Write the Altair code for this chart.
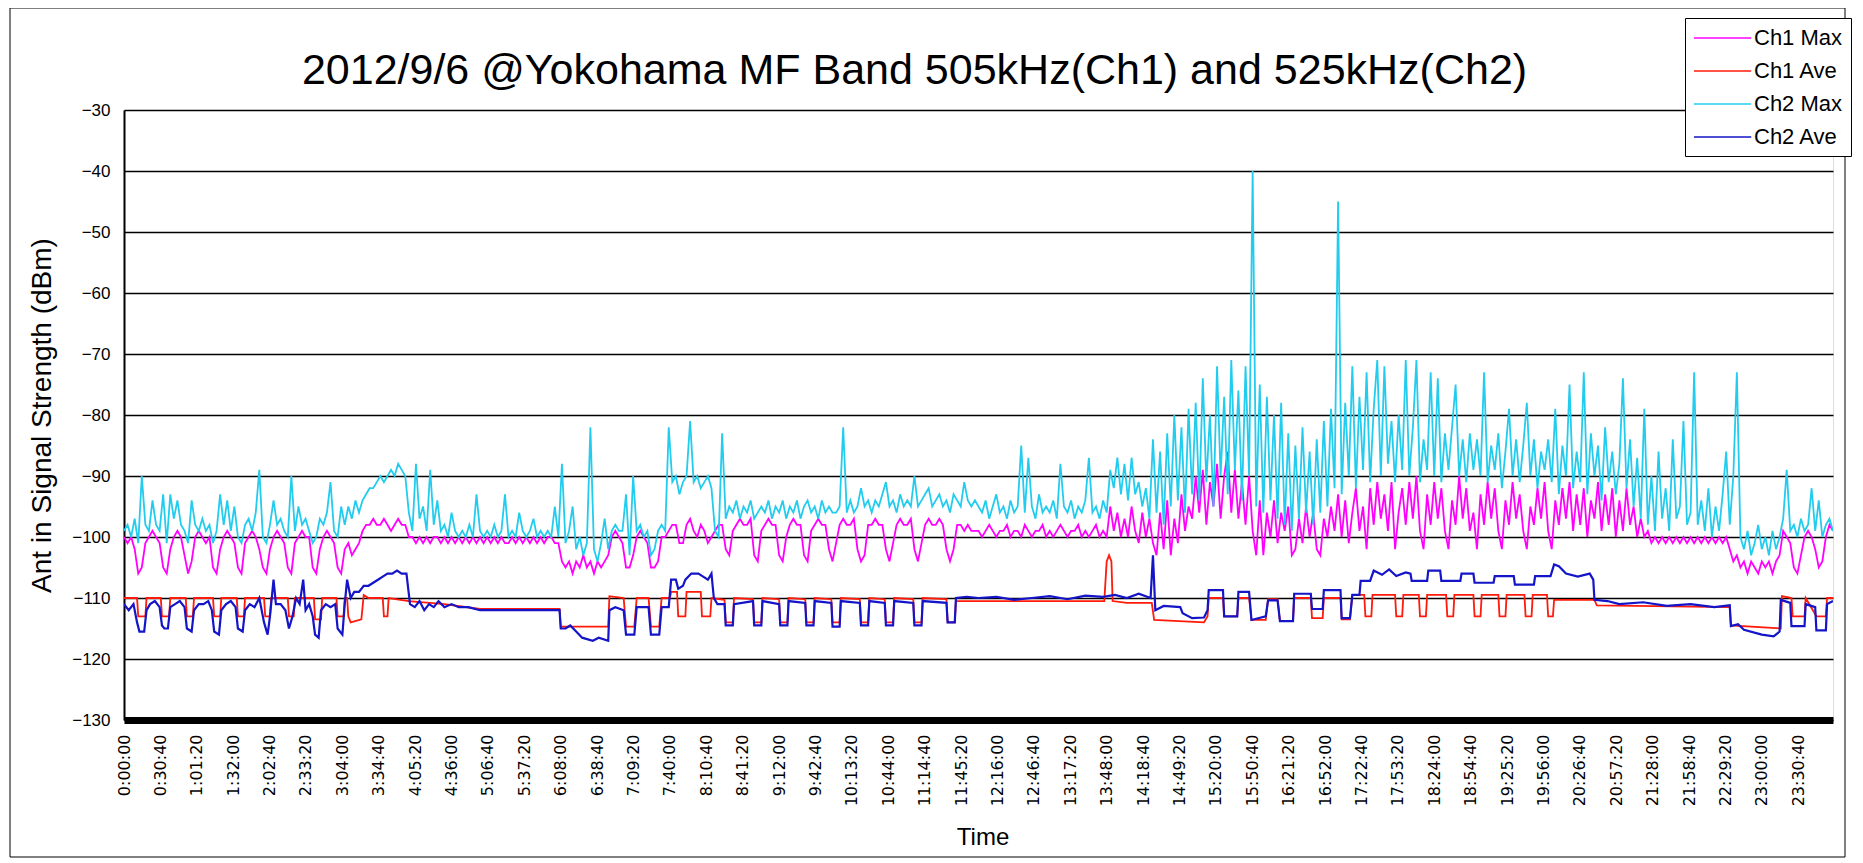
import json
import altair as alt
import pandas as pd

TITLE = "2012/9/6 @Yokohama MF Band 505kHz(Ch1) and 525kHz(Ch2)"
SERIES = ["Ch1 Max", "Ch1 Ave", "Ch2 Max", "Ch2 Ave"]
COLORS = ["#ff00ff", "#ff1a0a", "#22ccee", "#1414c8"]
WIDTHS = [1.8, 1.8, 1.8, 2.2]

TICK_LABELS = [
    "0:00:00", "0:30:40", "1:01:20", "1:32:00", "2:02:40", "2:33:20", "3:04:00",
    "3:34:40", "4:05:20", "4:36:00", "5:06:40", "5:37:20", "6:08:00", "6:38:40",
    "7:09:20", "7:40:00", "8:10:40", "8:41:20", "9:12:00", "9:42:40", "10:13:20",
    "10:44:00", "11:14:40", "11:45:20", "12:16:00", "12:46:40", "13:17:20",
    "13:48:00", "14:18:40", "14:49:20", "15:20:00", "15:50:40", "16:21:20",
    "16:52:00", "17:22:40", "17:53:20", "18:24:00", "18:54:40", "19:25:20",
    "19:56:00", "20:26:40", "20:57:20", "21:28:00", "21:58:40", "22:29:20",
    "23:00:00", "23:30:40",
]
Y_TICKS = [-130, -120, -110, -100, -90, -80, -70, -60, -50, -40, -30]

# Max series: one reading every 3 minutes (20 per hour), 0:00 .. 24:00
MAX_STEP_MIN = 3
CH1_MAX = [
    -100, -101, -100, -102, -106, -105, -101, -100, -99, -100, -101, -105, -106, -102, -100, -99, -100, -103, -106, -104,
    -100, -99, -100, -101, -100, -105, -106, -102, -100, -99, -100, -101, -105, -106, -101, -100, -99, -100, -102, -105,
    -106, -102, -100, -99, -100, -101, -105, -106, -101, -100, -99, -100, -100, -105, -106, -102, -100, -99, -100, -101,
    -105, -106, -102, -101, -103, -102, -101, -99, -98, -98, -97, -98, -98, -97, -98, -99, -98, -97, -98, -98,
    -100, -100, -101, -100, -101, -100, -101, -100, -100, -101, -100, -101, -100, -101, -100, -101, -100, -101, -100, -101,
    -100, -101, -100, -101, -100, -101, -100, -101, -101, -100, -101, -100, -101, -100, -101, -100, -101, -100, -101, -100,
    -100, -101, -101, -104, -105, -104, -106, -104, -105, -103, -105, -104, -106, -104, -105, -104, -103, -100, -99, -100,
    -101, -105, -105, -103, -100, -99, -100, -101, -105, -105, -104, -100, -100, -99, -98, -98, -101, -101, -98, -97,
    -99, -100, -98, -99, -101, -100, -99, -98, -98, -102, -103, -99, -98, -97, -98, -98, -97, -103, -104, -99,
    -98, -97, -98, -98, -103, -104, -100, -98, -97, -98, -98, -103, -104, -99, -98, -97, -98, -98, -102, -104,
    -101, -98, -97, -98, -98, -97, -102, -104, -103, -98, -98, -97, -98, -98, -102, -104, -101, -98, -97, -98,
    -98, -97, -102, -104, -101, -98, -97, -98, -98, -97, -98, -102, -104, -102, -98, -98, -99, -98, -99, -99,
    -99, -100, -99, -98, -99, -100, -99, -99, -98, -100, -99, -99, -100, -98, -99, -100, -99, -99, -98, -100,
    -99, -100, -99, -98, -99, -100, -99, -99, -98, -100, -99, -100, -99, -98, -100, -99, -100, -95, -99, -96,
    -100, -97, -100, -95, -99, -101, -96, -100, -97, -101, -103, -96, -102, -94, -103, -97, -101, -93, -99, -95,
    -97, -90, -96, -89, -98, -91, -95, -88, -97, -90, -86, -96, -89, -97, -91, -98, -90, -99, -103, -94,
    -103, -96, -100, -94, -101, -96, -99, -95, -103, -102, -97, -101, -95, -100, -96, -102, -103, -97, -100, -95,
    -99, -93, -100, -94, -101, -96, -92, -99, -95, -102, -92, -98, -91, -97, -93, -99, -91, -102, -96, -92,
    -98, -91, -97, -90, -99, -102, -93, -98, -91, -97, -92, -99, -102, -94, -98, -90, -97, -92, -99, -96,
    -102, -93, -98, -91, -97, -92, -99, -102, -94, -98, -91, -97, -93, -99, -102, -95, -98, -92, -97, -91,
    -99, -102, -94, -98, -92, -97, -91, -99, -93, -98, -92, -100, -94, -97, -91, -99, -93, -98, -92, -100,
    -94, -99, -92, -98, -95, -100, -97, -100, -99, -101, -100, -101, -100, -101, -100, -101, -100, -101, -100, -101,
    -100, -101, -100, -101, -100, -101, -100, -101, -100, -101, -100, -102, -104, -103, -105, -104, -106, -104, -105, -106,
    -104, -105, -104, -106, -104, -103, -99, -100, -101, -105, -106, -103, -100, -99, -100, -102, -105, -104, -100, -98,
    -99,
]
CH2_MAX = [
    -99, -98, -100, -97, -101, -90, -98, -99, -94, -98, -99, -93, -101, -93, -97, -94, -98, -99, -101, -94,
    -98, -99, -97, -99, -98, -101, -99, -93, -98, -94, -99, -95, -100, -101, -98, -97, -99, -96, -89, -100,
    -101, -98, -94, -98, -97, -99, -100, -90, -99, -95, -98, -97, -99, -101, -100, -97, -98, -96, -91, -99,
    -100, -95, -98, -95, -97, -94, -96, -94, -93, -92, -92, -91, -90, -91, -90, -89, -90, -88, -89, -90,
    -96, -99, -88, -97, -95, -99, -89, -98, -94, -99, -98, -100, -96, -99, -100, -99, -100, -98, -100, -93,
    -99, -100, -99, -100, -98, -100, -99, -93, -100, -99, -100, -96, -99, -100, -99, -97, -100, -99, -100, -99,
    -100, -95, -100, -88, -101, -99, -95, -102, -100, -103, -101, -82, -102, -104, -101, -97, -102, -99, -98, -99,
    -99, -93, -103, -90, -99, -98, -100, -99, -103, -102, -99, -98, -99, -82, -91, -90, -93, -91, -90, -81,
    -91, -90, -92, -91, -90, -92, -99, -100, -83, -97, -95, -96, -94, -97, -95, -96, -94, -97, -96, -95,
    -96, -94, -97, -95, -96, -94, -97, -95, -96, -94, -97, -95, -94, -96, -95, -97, -94, -96, -95, -96,
    -96, -95, -82, -96, -94, -96, -95, -92, -95, -94, -96, -94, -95, -93, -91, -95, -94, -96, -93, -95,
    -94, -95, -90, -95, -94, -93, -92, -95, -94, -93, -95, -94, -96, -93, -94, -95, -91, -94, -95, -94,
    -95, -96, -94, -97, -95, -93, -96, -95, -97, -94, -96, -95, -85, -96, -87, -95, -97, -93, -96, -95,
    -96, -94, -97, -88, -95, -96, -94, -97, -95, -96, -94, -87, -96, -95, -97, -94, -96, -89, -92, -87,
    -93, -88, -94, -87, -93, -91, -95, -92, -97, -84, -96, -86, -98, -83, -95, -80, -94, -82, -96, -79,
    -93, -78, -94, -74, -91, -80, -95, -72, -90, -77, -93, -71, -89, -76, -94, -72, -90, -40, -95, -75,
    -96, -77, -94, -80, -97, -78, -98, -83, -99, -85, -97, -82, -96, -86, -98, -84, -96, -81, -95, -79,
    -92, -45, -93, -78, -90, -72, -92, -77, -89, -73, -91, -79, -71, -90, -72, -88, -81, -91, -80, -89,
    -71, -90, -82, -71, -91, -84, -89, -73, -90, -74, -91, -83, -89, -82, -75, -90, -84, -91, -83, -89,
    -84, -90, -73, -91, -85, -89, -83, -92, -86, -79, -90, -84, -91, -85, -78, -90, -84, -92, -86, -89,
    -84, -91, -79, -93, -85, -90, -75, -92, -86, -91, -73, -93, -83, -90, -85, -94, -82, -91, -86, -93,
    -88, -74, -92, -84, -95, -87, -97, -79, -98, -90, -99, -86, -97, -92, -99, -84, -97, -95, -81, -98,
    -96, -73, -98, -94, -99, -92, -100, -95, -99, -93, -86, -98, -90, -73, -100, -102, -99, -103, -101, -98,
    -102, -100, -103, -99, -102, -100, -97, -89, -99, -98, -100, -97, -99, -98, -92, -99, -94, -100, -98, -97,
    -99,
]

# Ave series: (minute of day, dBm) break points
CH1_AVE = [
    (0, -110), (11, -110), (12, -113), (18, -113), (19, -110), (31, -110), (32, -113), (38, -113), (39, -110),
    (52, -110), (53, -113), (58, -113), (59, -110), (75, -110), (76, -113), (81, -113), (82, -110), (95, -110),
    (96, -113), (101, -113), (102, -110), (118, -110), (119, -113), (123, -113), (124, -110), (138, -110),
    (139, -113), (143, -113), (144, -110), (160, -110), (161, -113.5), (166, -113.5), (167, -110), (179, -110),
    (180, -113), (185, -113), (186, -110), (188, -110), (189, -113), (191, -114), (200, -113.5), (202, -109.5),
    (206, -110), (218, -110), (219, -113), (222, -113), (223, -110), (240, -110.5), (270, -111), (300, -111.8),
    (367, -111.8), (368, -114.7), (408, -114.7), (409, -109.7), (421, -110), (423, -114.7), (430, -114.7),
    (432, -110), (442, -110), (444, -114.7), (451, -114.7), (453, -110), (460, -110), (461, -109), (466, -109),
    (467, -113), (473, -113), (474, -109), (486, -109), (487, -113), (494, -113), (495, -110), (506, -110.3),
    (507, -114), (513, -114), (514, -110), (530, -110.2), (531, -114), (537, -114), (538, -110), (552, -110.2),
    (553, -114), (559, -114), (560, -110), (574, -110.2), (575, -114), (581, -114), (582, -110), (596, -110.2),
    (597, -114), (603, -114), (604, -110), (620, -110.2), (621, -114), (627, -114), (628, -110), (641, -110.2),
    (642, -114), (648, -114), (649, -110), (665, -110.2), (666, -114), (672, -114), (673, -110), (693, -110.2),
    (694, -114), (700, -114), (701, -110.5), (826, -110.5), (828, -104), (830, -103), (832, -104), (833, -110.5),
    (845, -110.8), (866, -110.8), (868, -113.6), (910, -114), (913, -113), (914, -110), (926, -110), (927, -113),
    (938, -113), (939, -110), (948, -110), (950, -113.6), (962, -113.6), (964, -110.2), (972, -110.2),
    (974, -113.8), (985, -113.8), (986, -110), (1000, -110), (1001, -113.3), (1010, -113.3), (1011, -110),
    (1025, -110), (1026, -113.5), (1033, -113.5), (1035, -109.5), (1045, -109.5), (1046, -113), (1051, -113),
    (1052, -109.5), (1071, -109.5), (1072, -113), (1077, -113), (1078, -109.5), (1091, -109.5), (1092, -113),
    (1097, -113), (1098, -109.5), (1114, -109.5), (1115, -113), (1120, -113), (1121, -109.5), (1137, -109.5),
    (1138, -113), (1143, -113), (1144, -109.5), (1158, -109.5), (1159, -113), (1164, -113), (1165, -109.5),
    (1180, -109.5), (1181, -113), (1186, -113), (1187, -109.5), (1199, -109.5), (1200, -113), (1204, -113),
    (1205, -110.3), (1239, -110.3), (1241, -111.2), (1353, -111.5), (1354, -114.5), (1396, -115), (1397, -109.7),
    (1405, -110), (1406, -113), (1416, -113), (1417, -110), (1426, -113), (1434, -113), (1435, -110), (1440, -110),
]
CH2_AVE = [
    (0, -111), (4, -112), (8, -111), (11, -114), (13, -115.5), (17, -115.5), (19, -112), (22, -111), (26, -110.5),
    (30, -111.5), (32, -114.5), (34, -115), (37, -115), (39, -111.5), (43, -111), (47, -110.5), (51, -111.5),
    (53, -115), (57, -115.5), (59, -112), (63, -111), (67, -111), (71, -110.5), (74, -112), (76, -115.5),
    (80, -116), (82, -112), (86, -111), (90, -110.5), (94, -111.5), (96, -115), (100, -115.5), (102, -112),
    (106, -111), (110, -111.5), (114, -110), (118, -114), (121, -116), (123, -113), (126, -107), (128, -111),
    (132, -111), (136, -112), (139, -115), (142, -113), (145, -110), (148, -111), (151, -107), (153, -112),
    (156, -111), (159, -113), (161, -116), (164, -116.5), (166, -112), (170, -111), (174, -111.5), (178, -111),
    (180, -115), (184, -116), (186, -111), (188, -107), (191, -110), (194, -109), (198, -109), (202, -108),
    (206, -108), (210, -107.5), (214, -107), (218, -106.5), (222, -106), (226, -106), (230, -105.5), (234, -106),
    (238, -106), (241, -111), (245, -111.5), (249, -110.5), (253, -112), (257, -111), (261, -111.5), (265, -110.5),
    (270, -111.5), (276, -111), (282, -111.5), (290, -111.5), (300, -112), (320, -112), (340, -112), (360, -112),
    (367, -112), (368, -115), (372, -115), (376, -114.5), (381, -115.5), (386, -116.5), (395, -117), (400, -116.5),
    (408, -117), (409, -112), (414, -111.5), (421, -112), (423, -116), (430, -116), (432, -111.5), (442, -111.5),
    (444, -116), (451, -116), (453, -111.5), (459, -111.5), (461, -107), (465, -107), (467, -108.5), (471, -108),
    (473, -107), (478, -106), (484, -106), (488, -106.5), (492, -107), (495, -106), (497, -110), (500, -111),
    (506, -111), (507, -114.5), (513, -114.5), (514, -111), (530, -110.5), (531, -114.5), (537, -114.5),
    (538, -110.5), (552, -111), (553, -114.5), (559, -114.5), (560, -110.5), (574, -110.8), (575, -114.5),
    (581, -114.5), (582, -110.5), (596, -110.8), (597, -114.7), (603, -114.7), (604, -110.5), (620, -110.8),
    (621, -114.5), (627, -114.5), (628, -110.5), (641, -110.8), (642, -114.5), (648, -114.5), (649, -110.5),
    (665, -110.8), (666, -114.5), (672, -114.5), (673, -110.5), (693, -110.8), (694, -114), (700, -114),
    (701, -110), (710, -109.8), (720, -110), (735, -109.8), (750, -110.3), (765, -110), (780, -109.7),
    (795, -110.2), (810, -109.6), (825, -109.8), (835, -109.5), (845, -110), (855, -109.3), (865, -110),
    (867, -103), (869, -112), (876, -111.3), (890, -111.5), (892, -112.5), (900, -113.3), (910, -113.2),
    (913, -112), (914, -108.7), (926, -108.7), (927, -113), (938, -113), (939, -109), (948, -109), (950, -113.6),
    (962, -113), (964, -110.4), (972, -110.4), (974, -113.8), (985, -113.8), (986, -109.3), (1000, -109.3),
    (1001, -111.8), (1010, -111.8), (1011, -108.7), (1025, -108.7), (1026, -113.3), (1033, -113.3), (1035, -109.5),
    (1041, -109.5), (1042, -107.2), (1050, -107.2), (1053, -105.5), (1060, -106.2), (1066, -105.3), (1072, -106.4),
    (1080, -105.8), (1084, -106), (1085, -107.2), (1098, -107.2), (1099, -105.5), (1109, -105.5), (1110, -107.2),
    (1126, -107.2), (1127, -106), (1137, -106), (1138, -107.5), (1154, -107.5), (1155, -106.4), (1171, -106.4),
    (1172, -107.8), (1188, -107.8), (1189, -106.4), (1202, -106.4), (1205, -104.5), (1209, -104.8), (1215, -106),
    (1225, -106.5), (1235, -106), (1238, -107), (1239, -110.3), (1250, -110.5), (1260, -111), (1280, -110.7),
    (1300, -111.3), (1320, -111), (1340, -111.5), (1353, -111.2), (1354, -114.6), (1360, -114.3), (1365, -115.2),
    (1380, -116), (1390, -116.3), (1395, -115.5), (1396, -110.3), (1404, -110.8), (1405, -114.6), (1416, -114.6),
    (1417, -111), (1425, -111.5), (1426, -115.3), (1434, -115.3), (1435, -111), (1440, -110.5),
]


def to_seconds(label):
    h, m, s = (int(p) for p in label.split(":"))
    return h * 3600 + m * 60 + s


TICK_SECONDS = [to_seconds(s) for s in TICK_LABELS]

rows = []
for name, vals in (("Ch1 Max", CH1_MAX), ("Ch2 Max", CH2_MAX)):
    for i, v in enumerate(vals):
        rows.append({"series": name, "t": i * MAX_STEP_MIN * 60, "v": v})
for name, pts in (("Ch1 Ave", CH1_AVE), ("Ch2 Ave", CH2_AVE)):
    for m, v in pts:
        rows.append({"series": name, "t": m * 60, "v": v})
df = pd.DataFrame(rows)

label_expr = f"{json.dumps(TICK_LABELS)}[indexof({json.dumps(TICK_SECONDS)}, datum.value)]"

FONT = "Liberation Sans"
W, H = 1709, 610

x_enc = alt.X(
    "t:Q",
    scale=alt.Scale(domain=[0, 86400], nice=False, zero=False),
    axis=alt.Axis(
        values=TICK_SECONDS, labelExpr=label_expr, labelAngle=270, labelFont="DejaVu Sans",
        labelFontSize=16, labelColor="black", labelPadding=14, labelOverlap=False, labelFlush=False,
        tickSize=0, grid=False, domainColor="black", domainWidth=7,
        title="Time", titleX=W / 2 + 4, titleY=117, titleBaseline="middle", titleAlign="center",
        titleFontSize=24, titleFontWeight="normal", titleColor="black", titleFont=FONT,
    ),
)
y_enc = alt.Y(
    "v:Q",
    scale=alt.Scale(domain=[-130, -30], nice=False, zero=False),
    axis=alt.Axis(
        values=Y_TICKS, grid=True, gridColor="black", gridWidth=1.5, gridOpacity=1,
        domainColor="black", domainWidth=2, tickSize=0, labelPadding=14, labelFontSize=17,
        labelColor="black", labelFont=FONT,
        title="Ant in Signal Strength (dBm)", titleX=-82, titleY=305, titleAngle=270,
        titleAlign="center", titleBaseline="middle", titleFontSize=28, titleFontWeight="normal",
        titleColor="black", titleFont=FONT,
    ),
)
color_enc = alt.Color(
    "series:N",
    scale=alt.Scale(domain=SERIES, range=COLORS),
    legend=alt.Legend(
        title=None, orient="none", legendX=1561, legendY=-92,
        symbolType="M-1,0H4.2", symbolSize=484, symbolStrokeWidth=1.5,
        labelFontSize=22, labelFont=FONT, labelColor="black", labelOffset=37,
        strokeColor="black", fillColor="white", padding=8, rowPadding=10,
    ),
)

frame = alt.Chart(pd.DataFrame({"k": [0]})).mark_rect(
    fillOpacity=0, stroke="black", strokeWidth=1
).encode(
    x=alt.value(-114), x2=alt.value(1721), y=alt.value(-102), y2=alt.value(747)
)

layers = [frame]
for name, w in zip(SERIES, WIDTHS):
    layers.append(
        alt.Chart(df)
        .transform_filter(alt.datum.series == name)
        .mark_line(strokeWidth=w, clip=True)
        .encode(x=x_enc, y=y_enc, color=color_enc)
    )

chart = (
    alt.layer(*layers)
    .properties(
        width=W, height=H,
        title=alt.TitleParams(
            TITLE, fontSize=43, font=FONT, fontWeight="normal", anchor="middle",
            frame="group", dx=-64, dy=119, offset=0, baseline="alphabetic", color="black",
        ),
        autosize=alt.AutoSizeParams(type="none"),
        padding={"left": 116, "top": 102, "right": 20, "bottom": 140},
        background="white",
    )
    .configure_view(stroke="black", strokeWidth=1.5)
    .configure(font=FONT)
)

chart.save("out.html", embed_options={"renderer": "svg", "actions": False})
